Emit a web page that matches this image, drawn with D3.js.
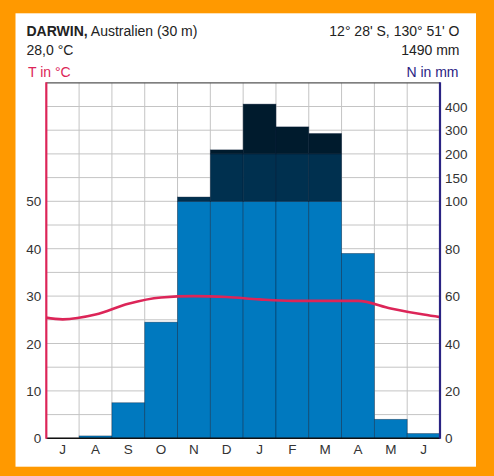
<!DOCTYPE html>
<html>
<head>
<meta charset="utf-8">
<script src="https://d3js.org/d3.v7.min.js"></script>
<style>
body { margin: 0; background: #ff9900; }
svg text { font-family: "Liberation Sans", Arial, sans-serif; }
</style>
</head>
<body>
<svg width="494" height="476"></svg>
<script>
// months start in July (southern hemisphere)
var months = ["J", "A", "S", "O", "N", "D", "J", "F", "M", "A", "M", "J"];
var temp = [25.1, 26.1, 28.4, 29.7, 30.0, 29.8, 29.3, 29.0, 29.0, 29.0, 27.4, 26.1];
var prec = [0, 1, 15, 49, 109, 217, 410, 314, 286, 78, 8, 2];
var tempTicks = [0, 10, 20, 30, 40, 50];
var precTicks = [0, 20, 40, 60, 80, 100, 150, 200, 300, 400];

var svg = d3.select("svg");
var pLeft = 46.3, pRight = 440, pTop = 82.8, pBottom = 438.3;

svg.append("rect").attr("x", 15.5).attr("y", 13.3).attr("width", 460.5).attr("height", 453.4).attr("fill", "#fff");

var x = d3.scaleBand().domain(d3.range(12)).range([pLeft, pRight]).padding(0);
var y = d3.scaleLinear().domain([0, 75]).range([pBottom, pTop]);
// precipitation: 0-100 like 0-50 °C, 100-200 compressed, 200-500 compressed more
var yp = d3.scaleLinear().domain([0, 100, 200, 500]).range([y(0), y(50), y(60), y(75)]);

var g = svg.append("g");

// grid
var hLines = d3.range(0, 75, 5);
g.selectAll(".hg").data(hLines).enter().append("line")
    .attr("x1", pLeft).attr("x2", pRight)
    .attr("y1", function(d) { return y(d); }).attr("y2", function(d) { return y(d); })
    .attr("stroke", "#c4c4c4").attr("stroke-width", 1);
g.selectAll(".vg").data(d3.range(1, 12)).enter().append("line")
    .attr("x1", function(d) { return x(d); }).attr("x2", function(d) { return x(d); })
    .attr("y1", pTop).attr("y2", pBottom)
    .attr("stroke", "#c4c4c4").attr("stroke-width", 1);

// bars in three layers
var layers = [
  {lo: 0, hi: 100, color: "#0079bf"},
  {lo: 100, hi: 200, color: "#00304f"},
  {lo: 200, hi: 500, color: "#001b2d"}
];
layers.forEach(function(l) {
  prec.forEach(function(v, i) {
    if (v <= l.lo) return;
    var v2 = Math.min(v, l.hi);
    g.append("rect")
      .attr("x", x(i)).attr("width", x.bandwidth())
      .attr("y", yp(v2)).attr("height", yp(l.lo) - yp(v2))
      .attr("fill", l.color)
      .attr("stroke", "rgba(0,25,50,0.45)").attr("stroke-width", 0.8);
  });
});

// top border
g.append("line").attr("x1", pLeft).attr("x2", pRight).attr("y1", pTop).attr("y2", pTop)
    .attr("stroke", "#555").attr("stroke-width", 1.2);

// temperature line with wrap-around points
var pts = [[x(0) - x.bandwidth() / 2, temp[11]]];
temp.forEach(function(t, i) { pts.push([x(i) + x.bandwidth() / 2, t]); });
pts.push([x(11) + x.bandwidth() * 1.5, temp[0]]);

svg.append("defs").append("clipPath").attr("id", "clip")
  .append("rect").attr("x", pLeft).attr("y", pTop).attr("width", pRight - pLeft).attr("height", pBottom - pTop);

var line = d3.line()
    .x(function(d) { return d[0]; })
    .y(function(d) { return y(d[1]); })
    .curve(d3.curveMonotoneX);
g.append("path").datum(pts)
    .attr("clip-path", "url(#clip)")
    .attr("d", line)
    .attr("fill", "none").attr("stroke", "#dc2558").attr("stroke-width", 2.6);

// axes
g.append("line").attr("x1", pLeft).attr("x2", pRight).attr("y1", pBottom).attr("y2", pBottom)
    .attr("stroke", "#111").attr("stroke-width", 1.5);
g.append("line").attr("x1", pLeft).attr("x2", pLeft).attr("y1", pTop - 0.5).attr("y2", pBottom + 0.5)
    .attr("stroke", "#dc2558").attr("stroke-width", 2.2);
g.append("line").attr("x1", pRight).attr("x2", pRight).attr("y1", pTop - 0.5).attr("y2", pBottom + 0.5)
    .attr("stroke", "#2a2383").attr("stroke-width", 2.2);

// tick labels
g.selectAll(".tl").data(tempTicks).enter().append("text")
    .attr("x", pLeft - 5).attr("y", function(d) { return y(d) + 5; })
    .attr("text-anchor", "end").attr("font-size", 13.5).attr("fill", "#333")
    .text(function(d) { return d; });
g.selectAll(".pl").data(precTicks).enter().append("text")
    .attr("x", pRight + 5).attr("y", function(d) { return yp(d) + 5; })
    .attr("font-size", 13.5).attr("fill", "#333")
    .text(function(d) { return d; });
g.selectAll(".ml").data(months).enter().append("text")
    .attr("x", function(d, i) { return x(i) + x.bandwidth() / 2; }).attr("y", 454)
    .attr("text-anchor", "middle").attr("font-size", 13.5).attr("fill", "#333")
    .text(function(d) { return d; });

// header
var h = svg.append("text").attr("x", 26.5).attr("y", 36).attr("font-size", 14).attr("fill", "#222");
h.append("tspan").attr("font-weight", "bold").text("DARWIN,");
h.append("tspan").text(" Australien (30 m)");
svg.append("text").attr("x", 26.5).attr("y", 55).attr("font-size", 14).attr("fill", "#222").text("28,0 °C");
svg.append("text").attr("x", 459.5).attr("y", 36).attr("font-size", 14).attr("fill", "#222")
    .attr("text-anchor", "end").text("12° 28' S, 130° 51' O");
svg.append("text").attr("x", 459.5).attr("y", 55).attr("font-size", 14).attr("fill", "#222")
    .attr("text-anchor", "end").text("1490 mm");
svg.append("text").attr("x", 28).attr("y", 77).attr("font-size", 14).attr("fill", "#dc2558").text("T in °C");
svg.append("text").attr("x", 458.5).attr("y", 77).attr("font-size", 14).attr("fill", "#2a2383")
    .attr("text-anchor", "end").text("N in mm");
</script>
</body>
</html>
